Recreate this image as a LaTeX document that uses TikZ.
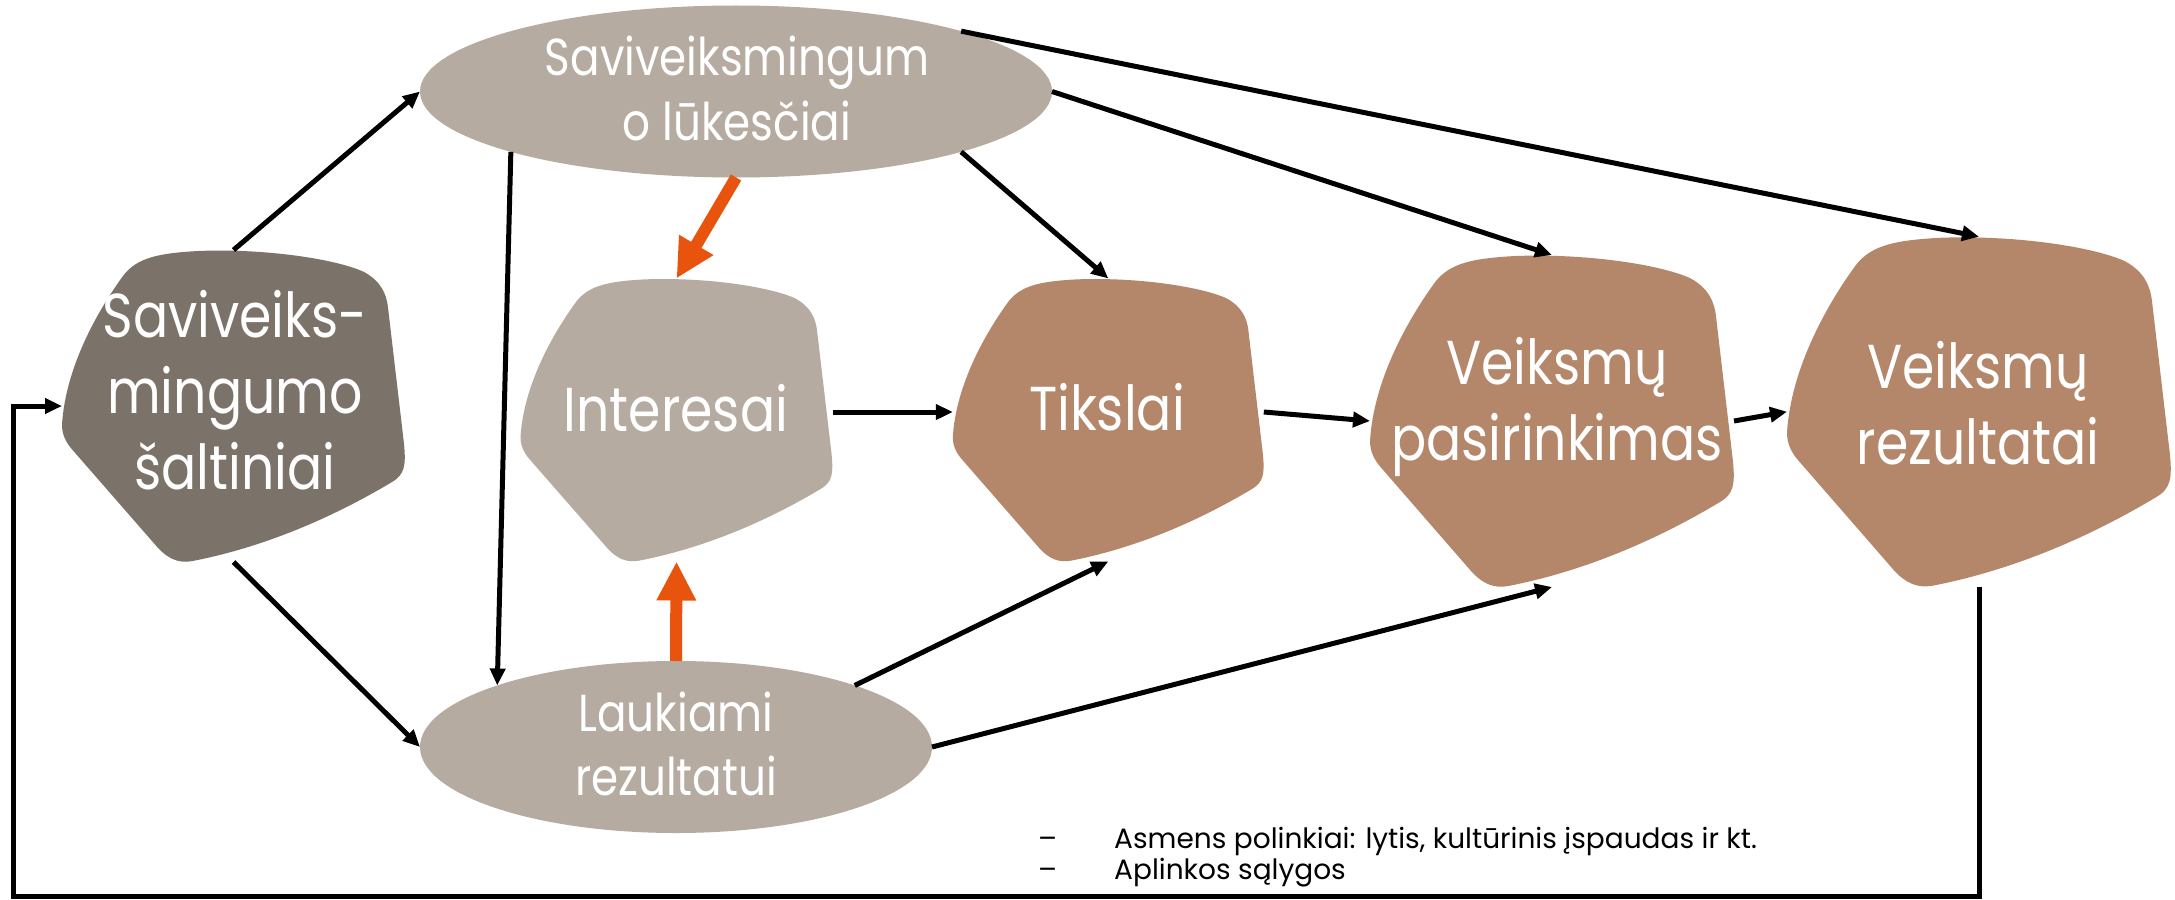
\documentclass[tikz,border=0pt]{standalone}
\usepackage{fontspec}
\setmainfont{Poppins}
\newfontfamily\blobfont[FakeStretch=0.84]{Poppins}
\newfontfamily\notesfont{Poppins}
\usetikzlibrary{arrows.meta,shapes.geometric}
\definecolor{darkbl}{HTML}{7B7369}
\definecolor{lightbl}{HTML}{B5ABA0}
\definecolor{brownbl}{HTML}{B5876A}
\definecolor{orangear}{HTML}{E8540E}
\newcommand\mlines[1]{\begin{tabular}[t]{@{}c@{}}#1\end{tabular}}
\newcommand\blobshape[6]{%
  \path[fill=#6, shift={(#2,#3)}, xscale=#4, yscale=#5]
    (-0.5,0.06) .. controls (-0.49,-0.12) and (-0.40,-0.30) .. (-0.32,-0.42)
    .. controls (-0.28,-0.475) and (-0.22,-0.49) .. (-0.1,-0.497)
    .. controls (0.1,-0.505) and (0.3,-0.47) .. (0.38,-0.43)
    .. controls (0.43,-0.40) and (0.445,-0.36) .. (0.45,-0.32)
    -- (0.497,0.12)
    .. controls (0.503,0.19) and (0.50,0.22) .. (0.46,0.245)
    .. controls (0.30,0.35) and (0.1,0.45) .. (-0.12,0.497)
    .. controls (-0.16,0.505) and (-0.19,0.49) .. (-0.22,0.455)
    -- (-0.47,0.14)
    .. controls (-0.49,0.115) and (-0.5,0.09) .. (-0.5,0.06) -- cycle;
  \node[blobanchor, minimum width=#4pt, minimum height=#5pt] (#1) at (#2,#3) {};
}
\tikzset{
  blobanchor/.style={shape=rectangle, inner sep=0pt, outer sep=0pt, draw=none},
  ellnode/.style={ellipse, fill=lightbl, inner sep=0pt, outer sep=0pt},
  lbl/.style={text=white, inner sep=0pt, anchor=base},
  biglbl/.style={lbl, font=\blobfont\fontsize{62}{76}\selectfont},
  toplbl/.style={lbl, font=\blobfont\fontsize{52}{65}\selectfont},
  botlbl/.style={lbl, font=\blobfont\fontsize{52}{63.3}\selectfont},
  notelbl/.style={text=black, inner sep=0pt, anchor=base west, font=\notesfont\fontsize{28}{31.7}\selectfont},
  conn/.style={draw=black, line width=5pt, -{Triangle[length=17pt,width=15pt]}},
  oconn/.style={draw=orangear, line width=12pt, -{Triangle[length=39pt,width=37pt]}},
}
\begin{document}
\begin{tikzpicture}[x=1pt,y=-1pt]
\fill[white] (0,0) rectangle (2175,899);
\useasboundingbox (0,0) rectangle (2175,899);

% blobs
\blobshape{sal}{233.5}{406}{343}{312}{darkbl}
\blobshape{int}{676.5}{420}{312}{283}{lightbl}
\blobshape{tik}{1108.3}{420}{311}{283}{brownbl}
\blobshape{vp}{1552}{421}{364}{332}{brownbl}
\blobshape{vr}{1979}{411.7}{384}{350}{brownbl}

% ellipses
\node[ellnode, minimum width=632pt, minimum height=172pt] (top) at (736,91.5) {};
\node[ellnode, minimum width=512pt, minimum height=172pt] (bot) at (676,747) {};

% labels
\node[biglbl] (sal-t) at (235,337.3) {\mlines{Saviveiks-\\mingumo\\šaltiniai}};
\node[biglbl] (int-t) at (676,431.7) {Interesai};
\node[biglbl] (tik-t) at (1107,430.7) {Tikslai};
\node[biglbl] (vp-t) at (1557,384) {\mlines{Veiksmų\\pasirinkimas}};
\node[biglbl] (vr-t) at (1978,388.3) {\mlines{Veiksmų\\rezultatai}};
\node[toplbl] (top-t) at (737,75) {\mlines{Saviveiksmingum\\o lūkesčiai}};
\node[botlbl] (bot-t) at (676,731.7) {\mlines{Laukiami\\rezultatui}};
\node[notelbl] (notes) at (1038,848) {\begin{tabular}[t]{@{}l@{}}\makebox[76pt][l]{–}Asmens polinkiai: lytis, kultūrinis įspaudas ir kt.\\\makebox[76pt][l]{–}Aplinkos sąlygos\end{tabular}};

% connectors
\draw[conn] (sal.north) -- (top.west);
\draw[conn] (sal.south) -- (bot.west);
\draw[conn] (top.195) -- (bot.161);
\draw[conn] (top.-15) -- (tik.north);
\draw[conn] (top.east) -- (vp.north);
\draw[conn] (top.15) -- (vr.north);
\draw[conn] (bot.19) -- (tik.south);
\draw[conn] (bot.east) -- (vp.south);
\draw[conn] ([yshift=8pt]int.east) -- ([yshift=8pt]tik.west);
\draw[conn] ([yshift=8pt]tik.east) -- (vp.west);
\draw[conn] (vp.east) -- (vr.west);
\coordinate (fbl) at (13,896);
\draw[conn] (vr.south) -- (vr.south |- fbl) -- (fbl) -- (fbl |- sal.west) -- (sal.west);

% orange arrows
\draw[oconn] (top.south) -- (int.north);
\draw[oconn] (bot.north) -- (int.south);
\end{tikzpicture}
\end{document}
